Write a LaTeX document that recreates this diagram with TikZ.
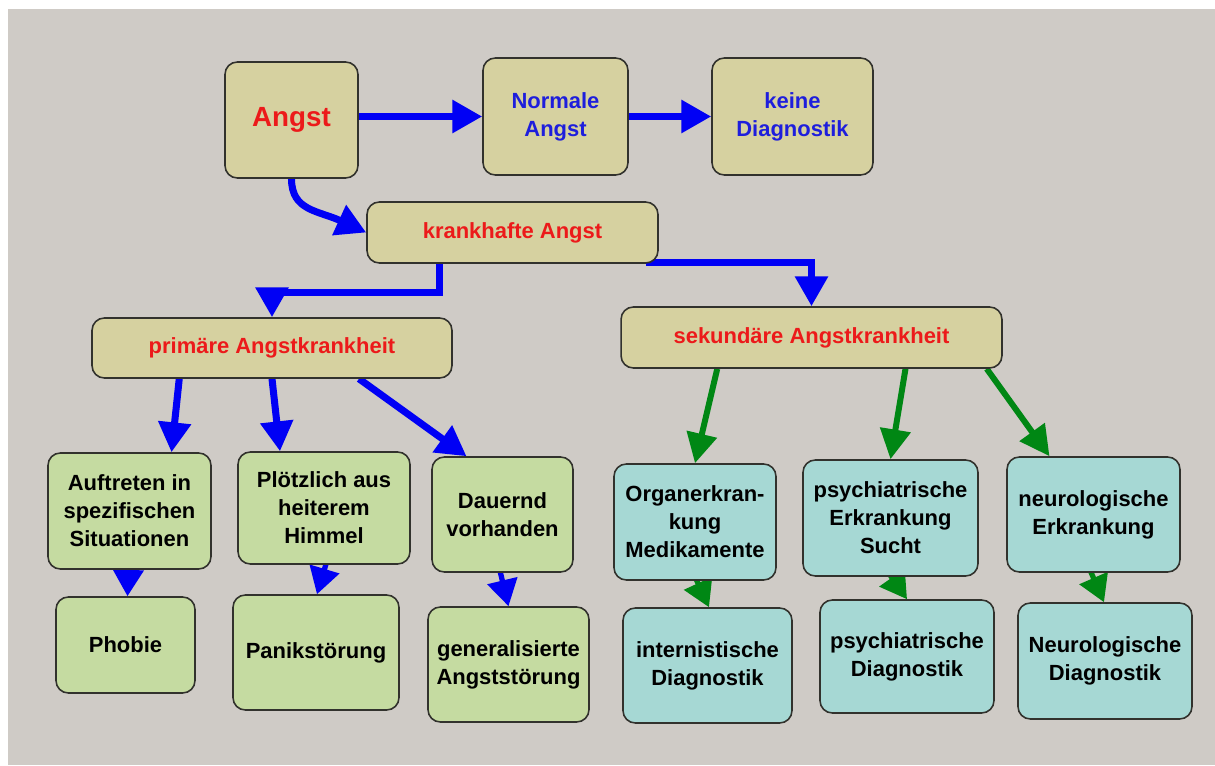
\documentclass[tikz,border=0pt]{standalone}
\usepackage{fontspec}
\setmainfont{Liberation Sans}
\usetikzlibrary{arrows.meta,calc}
\pgfdeclarelayer{back}
\pgfdeclarelayer{edges}
\pgfsetlayers{back,edges,main}
\definecolor{bggray}{RGB}{207,203,198}
\definecolor{tanfill}{RGB}{214,209,160}
\definecolor{grnfill}{RGB}{197,219,161}
\definecolor{cyanfill}{RGB}{166,216,212}
\definecolor{boxline}{RGB}{50,50,45}
\definecolor{txtred}{RGB}{236,26,26}
\definecolor{txtblue}{RGB}{30,30,220}
\definecolor{arrblue}{RGB}{0,0,245}
\definecolor{arrgreen}{RGB}{0,135,20}
\tikzset{
  box/.style={draw=boxline, line width=0.9pt, rounded corners=7pt, align=center,
    inner sep=0pt, font=\bfseries\fontsize{12.5}{15.9}\selectfont},
  tanbox/.style={box, fill=tanfill},
  grnbox/.style={box, fill=grnfill, text=black},
  cyanbox/.style={box, fill=cyanfill, text=black},
  bluearrow/.style={draw=arrblue, line width=4pt, -{Triangle[width=18pt,length=17pt]}},
  smallblue/.style={draw=arrblue, line width=3pt, -{Triangle[width=17pt,length=15pt]}},
  greenarrow/.style={draw=arrgreen, line width=3.4pt, -{Triangle[width=17pt,length=17pt]}},
  smallgreen/.style={draw=arrgreen, line width=3pt, -{Triangle[width=17pt,length=15pt]}},
}
\begin{document}
\begin{tikzpicture}[x=0.02cm,y=-0.02cm]
\useasboundingbox (0,0) rectangle (1215,765);
\begin{pgfonlayer}{back}
\fill[white] (0,0) rectangle (1215,765);
\fill[bggray] (8,9) rectangle (1215,765);
\end{pgfonlayer}

% nodes
\node[tanbox, minimum width=2.66cm, minimum height=2.32cm, text=txtred,
  font=\bfseries\fontsize{15.8}{18}\selectfont] (angst) at (291.5,120) {Angst};
\node[tanbox, minimum width=2.90cm, minimum height=2.34cm, text=txtblue] (norm) at (555.5,116.5) {Normale\\Angst};
\node[tanbox, minimum width=3.22cm, minimum height=2.34cm, text=txtblue] (keine) at (792.5,116.5) {keine\\Diagnostik};
\node[tanbox, minimum width=5.82cm, minimum height=1.22cm, text=txtred] (kr) at (512.5,232.5) {krankhafte Angst};
\node[tanbox, minimum width=7.20cm, minimum height=1.20cm, text=txtred] (prim) at (272,348) {primäre Angstkrankheit};
\node[tanbox, minimum width=7.62cm, minimum height=1.22cm, text=txtred] (sek) at (811.5,337.5) {sekundäre Angstkrankheit};

\node[grnbox, minimum width=3.26cm, minimum height=2.32cm] (auf) at (129.5,511) {Auftreten in\\spezifischen\\Situationen};
\node[grnbox, minimum width=2.78cm, minimum height=1.92cm] (phob) at (125.5,645) {Phobie};
\node[grnbox, minimum width=3.44cm, minimum height=2.24cm] (ploetz) at (324,508) {Plötzlich aus\\heiterem\\Himmel};
\node[grnbox, minimum width=3.32cm, minimum height=2.30cm] (panik) at (316,652.5) {Panikstörung};
\node[grnbox, minimum width=2.82cm, minimum height=2.30cm] (dauer) at (502.5,514.5) {Dauernd\\vorhanden};
\node[grnbox, minimum width=3.22cm, minimum height=2.30cm] (gen) at (508.5,664.5) {generalisierte\\Angststörung};

\node[cyanbox, minimum width=3.24cm, minimum height=2.32cm] (organ) at (695,522) {Organerkran-\\kung\\Medikamente};
\node[cyanbox, minimum width=3.38cm, minimum height=2.30cm] (intern) at (707.5,665.5) {internistische\\Diagnostik};
\node[cyanbox, minimum width=3.50cm, minimum height=2.32cm] (psyE) at (890.5,518) {psychiatrische\\Erkrankung\\Sucht};
\node[cyanbox, minimum width=3.48cm, minimum height=2.26cm] (psyD) at (907,656.5) {psychiatrische\\Diagnostik};
\node[cyanbox, minimum width=3.46cm, minimum height=2.30cm] (neuE) at (1093.5,514.5) {neurologische\\Erkrankung};
\node[cyanbox, minimum width=3.48cm, minimum height=2.32cm] (neuD) at (1105,661) {Neurologische\\Diagnostik};

\begin{pgfonlayer}{edges}
% blue connectors
\draw[bluearrow] (norm.west -| angst.east) -- (norm.west);
\draw[bluearrow] (norm.east) -- (keine.west);
\draw[bluearrow] (angst.south) .. controls +(0,32) and +(-48,-22) .. (kr.west);
\draw[bluearrow] ($(kr.south west)!0.25!(kr.south east)$) -- ++(0,29) -| (prim.north);
\draw[bluearrow] ($(kr.south east)+(-13,-1)$) -| (sek.north);
\draw[bluearrow] ($(prim.south west)+(88,0)$) -- ($(auf.north)+(42,0)$);
\draw[bluearrow] (prim.south) -- ($(ploetz.north)+(-44,0)$);
\draw[bluearrow] ($(prim.south)+(87,0)$) -- ($(dauer.north)+(-36,0)$);
\draw[smallblue] ($(auf.south)+(-1,-4)$) -- ($(phob.north)+(2,0)$);
\draw[smallblue] ($(ploetz.south)+(3,-4)$) -- ($(panik.north)+(1,0)$);
\draw[smallblue] ($(dauer.south)+(-3,-4)$) -- (gen.north);

% green connectors
\draw[greenarrow] ($(sek.south west)+(97,0)$) -- (organ.north);
\draw[greenarrow] ($(sek.south)+(94,0)$) -- (psyE.north);
\draw[greenarrow] ($(sek.south east)+(-16,0)$) -- ($(neuE.north)+(-44,0)$);
\draw[smallgreen] ($(organ.south)+(0,-4)$) -- ($(intern.north)+(1.5,0)$);
\draw[smallgreen] ($(psyE.south)+(-2,-4)$) -- (psyD.north);
\draw[smallgreen] ($(neuE.south)+(-4,-4)$) -- ($(neuD.north)+(-1,0)$);
\end{pgfonlayer}
\end{tikzpicture}
\end{document}
